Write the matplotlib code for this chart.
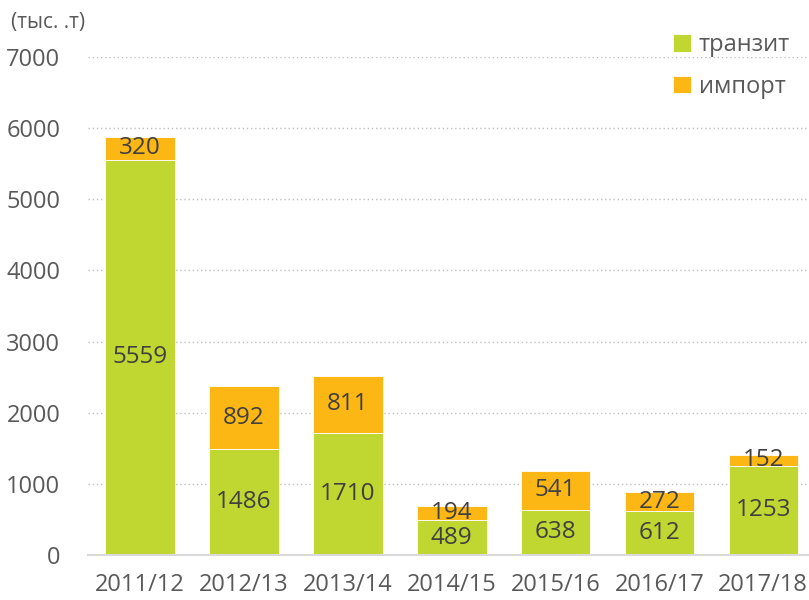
import matplotlib
matplotlib.use('Agg')
import matplotlib.pyplot as plt
import numpy as np

# Данные
years = ['2011/12', '2012/13', '2013/14', '2014/15', '2015/16', '2016/17', '2017/18']
transit = [5559, 1486, 1710, 489, 638, 612, 1253]
imports = [320, 892, 811, 194, 541, 272, 152]

green = '#BFD730'
orange = '#FDB714'
text_gray = '#595959'

plt.rcParams['font.family'] = ['Open Sans', 'DejaVu Sans']

fig = plt.figure(figsize=(8.09, 6.0), dpi=100)
ax = fig.add_axes([0.109, 0.075, 0.891, 0.83])

x = np.arange(len(years))
w = 0.67
b1 = ax.bar(x, transit, w, color=green, edgecolor='white', linewidth=0.6, label='транзит')
b2 = ax.bar(x, imports, w, bottom=transit, color=orange, edgecolor='white', linewidth=0.6,
            label='импорт')

ax.bar_label(b1, labels=[str(v) for v in transit], label_type='center',
             fontsize=17.5, color='#404040')
ax.bar_label(b2, labels=[str(v) for v in imports], label_type='center',
             fontsize=17.5, color='#404040')

ax.set_ylim(0, 7000)
ax.set_xlim(-0.5, len(years) - 0.56)
ax.set_yticks(range(0, 7001, 1000))
ax.set_xticks(x)
ax.set_xticklabels(years)
ax.tick_params(axis='both', length=0, labelsize=17, labelcolor=text_gray)
ax.tick_params(axis='y', pad=20)
ax.tick_params(axis='x', pad=13)

ax.yaxis.grid(True, linestyle=(0, (1, 2)), color='#BFBFBF', linewidth=1)
ax.set_axisbelow(True)
for side in ['top', 'right', 'left']:
    ax.spines[side].set_visible(False)
ax.spines['bottom'].set_color('#D9D9D9')
ax.spines['bottom'].set_linewidth(1.5)

fig.text(0.014, 0.963, '(тыс. .т)', fontsize=15, color=text_gray, va='center')

fig.legend(handles=[b1, b2], loc='upper right', bbox_to_anchor=(1.003, 0.98),
           frameon=False, fontsize=17, labelcolor=text_gray,
           handlelength=0.75, handleheight=0.75, handletextpad=0.35, labelspacing=0.75)

plt.savefig('out.png', dpi=100)
plt.close(fig)
